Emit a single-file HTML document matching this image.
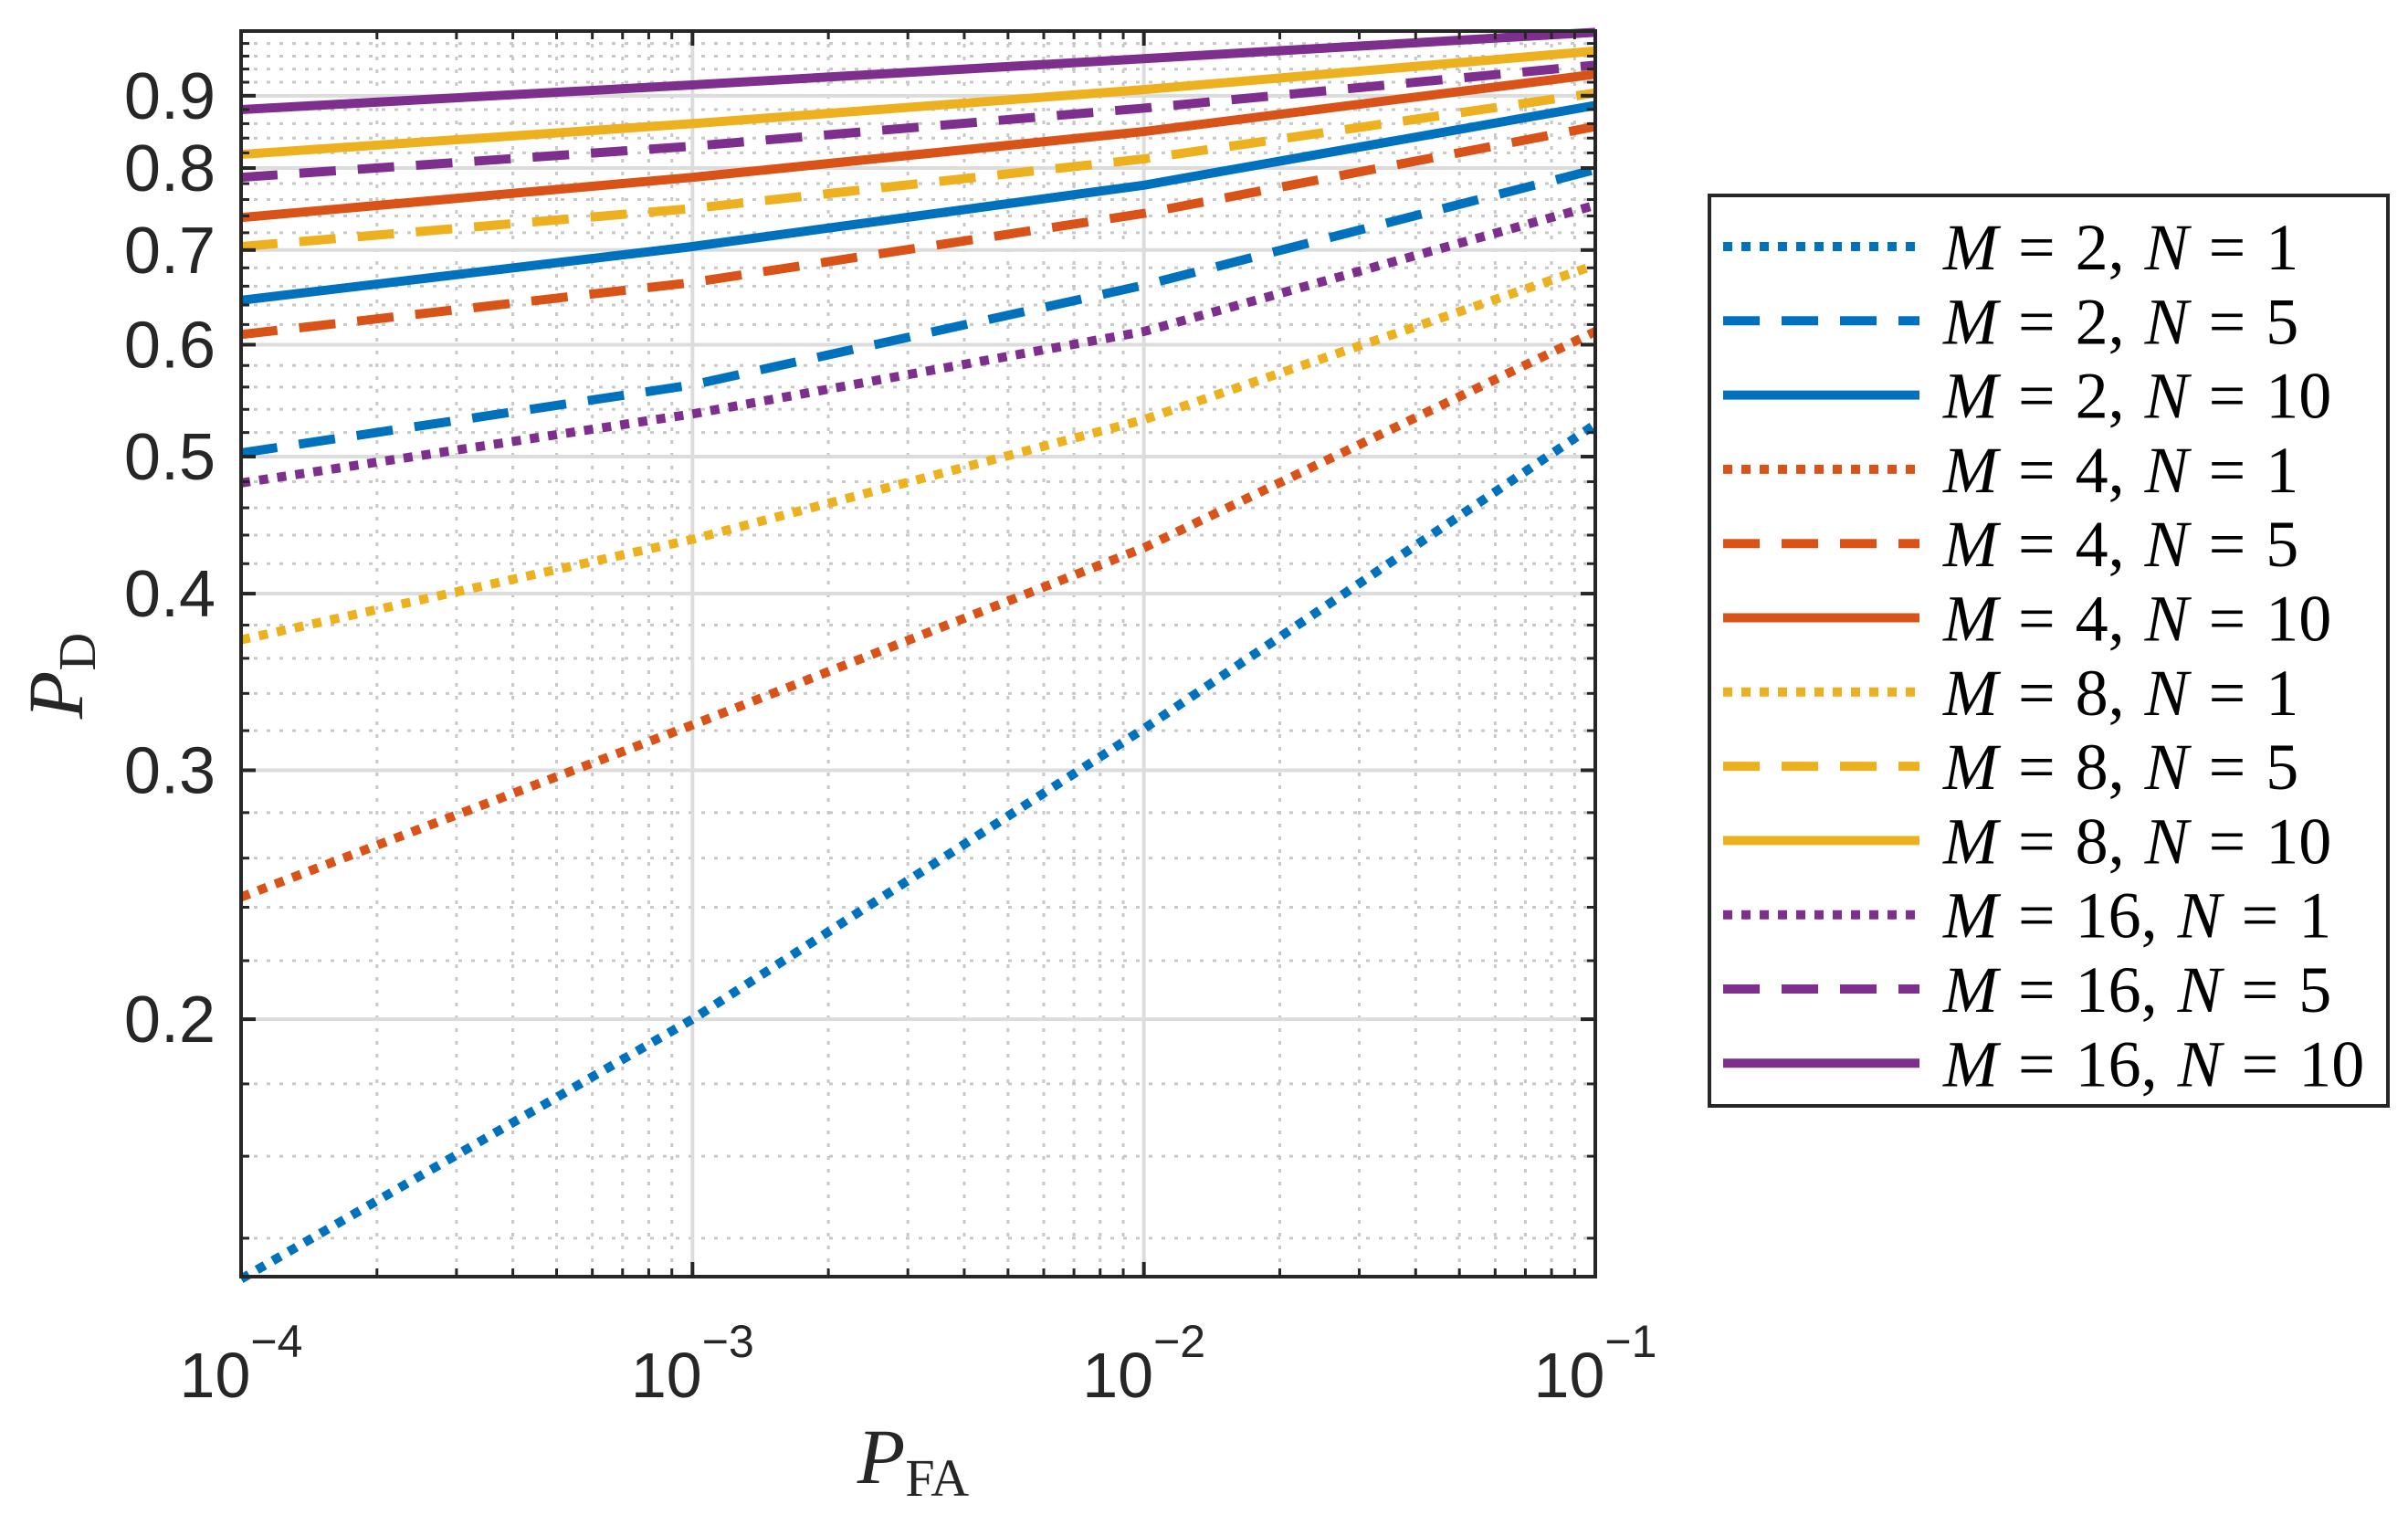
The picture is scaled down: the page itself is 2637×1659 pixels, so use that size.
<!DOCTYPE html>
<html><head><meta charset="utf-8"><style>
html,body{margin:0;padding:0;background:#fff;}
svg{display:block;}
</style></head><body>
<svg id="chart" width="2637" height="1659" viewBox="0 0 2637 1659" xmlns="http://www.w3.org/2000/svg">
<g id="grid"></g>
<g id="series"></g>
<g id="axes"></g>
<g id="legend"></g>
<text x="1000" y="1624" text-anchor="middle" font-family="Liberation Serif, serif" font-size="86" fill="#262626"><tspan font-style="italic">P</tspan><tspan font-size="58" dy="14">FA</tspan></text>
<text transform="translate(90,740) rotate(-90)" text-anchor="middle" font-family="Liberation Serif, serif" font-size="86" fill="#262626"><tspan font-style="italic">P</tspan><tspan font-size="58" dy="14">D</tspan></text>
</svg>
<script>
const xVals = [1e-4, 1e-3, 1e-2, 1e-1];
const seriesLabels = ['M = 2, N = 1','M = 2, N = 5','M = 2, N = 10','M = 4, N = 1','M = 4, N = 5','M = 4, N = 10','M = 8, N = 1','M = 8, N = 5','M = 8, N = 10','M = 16, N = 1','M = 16, N = 5','M = 16, N = 10'];
const m2n1 = [0.131, 0.200, 0.321, 0.527];
const m2n5 = [0.503, 0.562, 0.661, 0.798];
const m2n10 = [0.645, 0.704, 0.778, 0.886];
const m4n1 = [0.244, 0.323, 0.431, 0.613];
const m4n5 = [0.610, 0.664, 0.743, 0.856];
const m4n10 = [0.738, 0.788, 0.849, 0.932];
const m8n1 = [0.371, 0.437, 0.531, 0.683];
const m8n5 = [0.704, 0.749, 0.812, 0.904];
const m8n10 = [0.818, 0.860, 0.909, 0.968];
const m16n1 = [0.479, 0.536, 0.613, 0.753];
const m16n5 = [0.788, 0.829, 0.882, 0.946];
const m16n10 = [0.880, 0.916, 0.956, 0.998];
const yTickLabels = ['0.2','0.3','0.4','0.5','0.6','0.7','0.8','0.9'];
const xTickExps = ['-4','-3','-2','-1'];

const allSeries = [m2n1,m2n5,m2n10,m4n1,m4n5,m4n10,m8n1,m8n5,m8n10,m16n1,m16n5,m16n10];
const colors = ['#0072BD','#D95319','#EDB120','#7E2F8E'];
const styles = ['dot','dash','solid'];
const L=264,R=1747,T=34,B=1398;
const xMin=-4,xMax=-1,yMin=Math.log10(0.1315),yMax=0;
function sx(v){return L+(Math.log10(v)-xMin)/(xMax-xMin)*(R-L);}
function sy(v){return B-(Math.log10(v)-yMin)/(yMax-yMin)*(B-T);}
const NS='http://www.w3.org/2000/svg';
function mk(tag,parent,attrs){const e=document.createElementNS(NS,tag);for(const k in attrs)e.setAttribute(k,attrs[k]);parent.appendChild(e);return e;}
const grid=document.getElementById('grid'),axes=document.getElementById('axes'),ser=document.getElementById('series'),leg=document.getElementById('legend');
for(let d=-4;d<-1;d++){for(let k=2;k<=9;k++){const x=sx(k*Math.pow(10,d));
 const g=mk('line',grid,{x1:x,x2:x,y1:T,y2:B,stroke:'#c8c8c8','stroke-width':3,'stroke-dasharray':'4 10'});
 
 
 for(const [y1,y2] of [[B,B-9],[T,T+9]]){const t=mk('line',axes,{x1:x,x2:x,y1:y1,y2:y2,stroke:'#262626','stroke-width':3});
 
 }
}}
for(let i=14;i<100;i+=2){if(i%10===0)continue;const y=sy(i/100);
 const g=mk('line',grid,{x1:L,x2:R,y1:y,y2:y,stroke:'#c8c8c8','stroke-width':3,'stroke-dasharray':'4 10'});
 
 
 for(const [x1,x2] of [[L,L+9],[R,R-9]]){const t=mk('line',axes,{x1:x1,x2:x2,y1:y,y2:y,stroke:'#262626','stroke-width':3});
 
 }
}
xTickExps.forEach(function(e){const x=sx(Math.pow(10,+e));
 const g=mk('line',grid,{x1:x,x2:x,y1:T,y2:B,stroke:'#dcdcdc','stroke-width':4});
 
 
 for(const [y1,y2] of [[B,B-16],[T,T+16]]){const t=mk('line',axes,{x1:x,x2:x,y1:y1,y2:y2,stroke:'#262626','stroke-width':4});
 
 }
 const tx=mk('text',axes,{x:x,y:1530,'text-anchor':'middle','font-family':'Liberation Sans, sans-serif','font-size':70,fill:'#262626'});
 
 
 tx.innerHTML='<tspan>10</tspan><tspan font-size="50" dy="-44">'+e.replace('-','\u2212')+'</tspan>';
});
yTickLabels.forEach(function(l){const y=sy(+l);
 const g=mk('line',grid,{x1:L,x2:R,y1:y,y2:y,stroke:'#dcdcdc','stroke-width':4});
 
 
 for(const [x1,x2] of [[L,L+16],[R,R-16]]){const t=mk('line',axes,{x1:x1,x2:x2,y1:y,y2:y,stroke:'#262626','stroke-width':4});
 
 }
 const tx=mk('text',axes,{x:236,y:y+25,'text-anchor':'end','font-family':'Liberation Sans, sans-serif','font-size':72,fill:'#262626'});
 
 
 tx.textContent=l;
});
const box=mk('rect',axes,{x:L,y:T,width:R-L,height:B-T,fill:'none',stroke:'#262626','stroke-width':4});


function dashFor(s){return s==='dot'?'10 10':(s==='dash'?'40 24':'none');}
allSeries.forEach(function(vals,i){
 const c=colors[Math.floor(i/3)],s=styles[i%3];
 const pts=vals.map(function(v,j){return sx(xVals[j])+','+sy(v);}).join(' ');
 const p=mk('polyline',ser,{points:pts,fill:'none',stroke:c,'stroke-width':10,'stroke-dasharray':dashFor(s)});
 
 
});
const lb=mk('rect',leg,{x:1872,y:214,width:743,height:997,fill:'#fff',stroke:'#262626','stroke-width':4});


seriesLabels.forEach(function(lbl,i){
 const y=270+i*81.3,c=colors[Math.floor(i/3)],s=styles[i%3];
 const ln=mk('line',leg,{x1:1887,x2:2102,y1:y,y2:y,stroke:c,'stroke-width':10,'stroke-dasharray':dashFor(s)});
 
 
 const parts=lbl.split(', ');
 const a=parts[0].split(' = '),b=parts[1].split(' = ');
 const t=mk('text',leg,{x:2128,y:y+25,'font-family':'Liberation Serif, serif','font-size':72,'word-spacing':4,fill:'#000'});
 
 
 t.innerHTML='<tspan font-style="italic">'+a[0]+'</tspan> = '+a[1]+', <tspan font-style="italic">'+b[0]+'</tspan> = '+b[1];
});
</script>
</body></html>
